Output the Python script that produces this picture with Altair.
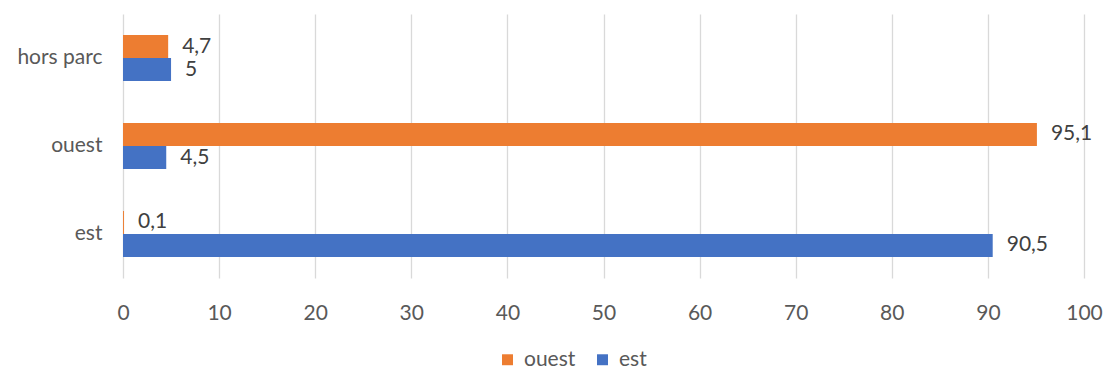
import altair as alt
import pandas as pd

categories = ["hors parc", "ouest", "est"]
series = ["ouest", "est"]
ouest_values = [4.7, 95.1, 0.1]
est_values = [5.0, 4.5, 90.5]
colors = ["#ED7D31", "#4472C4"]
x_ticks = list(range(0, 101, 10))

rows = []
for c, o, e in zip(categories, ouest_values, est_values):
    rows.append({"cat": c, "serie": "ouest", "v": o})
    rows.append({"cat": c, "serie": "est", "v": e})
df = pd.DataFrame(rows)
df["label"] = df["v"].map(lambda v: (f"{v:g}").replace(".", ","))

FONT = "Lato"
FS = 21

y_enc = alt.Y("cat:N", sort=categories, title=None,
              scale=alt.Scale(paddingInner=0.477, paddingOuter=0.239),
              axis=alt.Axis(domain=False, ticks=False, labelFontSize=FS, labelColor="#595959",
                            labelPadding=21, labelFont=FONT))
yoff = alt.YOffset("serie:N", sort=series, scale=alt.Scale(domain=series, paddingInner=0, paddingOuter=0))

bars = alt.Chart(df).mark_bar().encode(
    x=alt.X("v:Q", title=None, scale=alt.Scale(domain=[0, 100], nice=False),
            axis=alt.Axis(values=x_ticks, domain=False, ticks=False, grid=True, gridColor="#d9d9d9",
                          gridWidth=1.3, labelFontSize=FS, labelColor="#595959", labelPadding=24,
                          labelFont=FONT, labelFlush=False)),
    y=y_enc,
    yOffset=yoff,
    color=alt.Color("serie:N", sort=series, scale=alt.Scale(domain=series, range=colors),
                    legend=alt.Legend(title=None, orient="none", legendX=374, legendY=335,
                                      direction="horizontal", symbolType="square", symbolSize=120,
                                      labelFontSize=FS, labelColor="#595959", labelFont=FONT,
                                      labelOffset=6, columnPadding=16, symbolStrokeWidth=0)),
)

texts = alt.Chart(df).mark_text(align="left", baseline="middle", dx=14, fontSize=FS,
                                color="#404040", font=FONT).encode(
    x="v:Q",
    y=alt.Y("cat:N", sort=categories),
    yOffset=yoff,
    text="label:N",
)

chart = (bars + texts).properties(
    width=961, height=264,
    autosize=alt.AutoSizeParams(type="none"),
    padding={"left": 115, "top": 6, "right": 19, "bottom": 92},
).configure_view(stroke=None)

chart.save("out.html", embed_options={"renderer": "svg", "actions": False})
